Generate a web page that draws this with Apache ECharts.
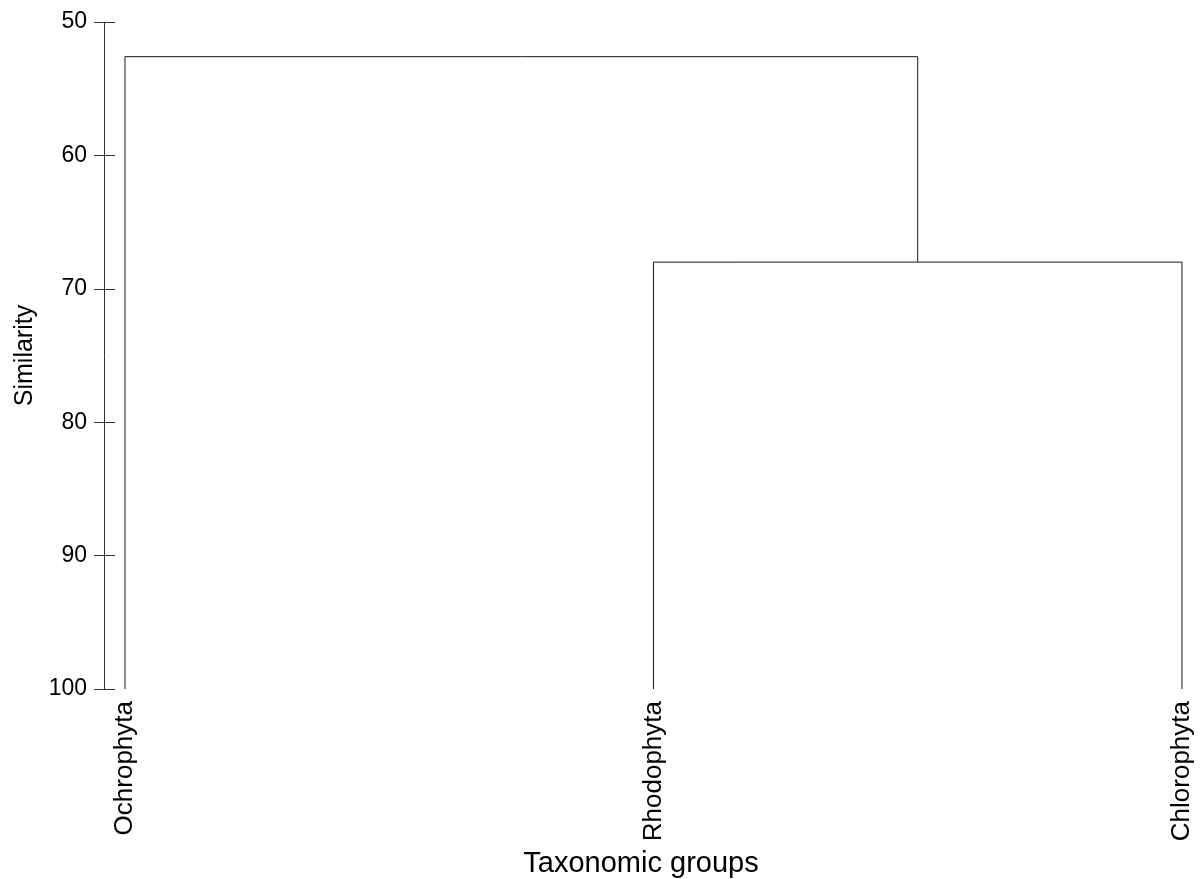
<!DOCTYPE html>
<html>
<head>
<meta charset="utf-8">
<style>
  html, body { margin: 0; padding: 0; background: #fff; }
  #chart { width: 1200px; height: 879px; }
</style>
<script src="https://cdn.jsdelivr.net/npm/echarts@6/dist/echarts.min.js"></script>
</head>
<body>
<div id="chart"></div>
<script>
// Leaves of the dendrogram, in drawing order
const taxa = ['Ochrophyta', 'Rhodophyta', 'Chlorophyta'];
// Linkage steps: [left node, right node, similarity]; nodes 0..2 are leaves, 3.. are clusters
const mergeLeft = [1, 0];
const mergeRight = [2, 3];
const mergeSimilarity = [68.0, 52.6];
// Similarity axis ticks
const simTicks = [50, 60, 70, 80, 90, 100];

// Node positions: leaves sit at their index at similarity 100,
// each cluster sits midway between its children at its merge similarity.
const nodeX = taxa.map((_, i) => i);
const nodeY = taxa.map(() => simTicks[simTicks.length - 1]);
const segments = [];
mergeSimilarity.forEach((s, k) => {
  const a = mergeLeft[k], b = mergeRight[k];
  segments.push([[nodeX[a], nodeY[a]], [nodeX[a], s], [nodeX[b], s], [nodeX[b], nodeY[b]]]);
  nodeX.push((nodeX[a] + nodeX[b]) / 2);
  nodeY.push(s);
});

const font = '"Liberation Sans", Arial, sans-serif';
const axisColor = '#333';
// small padding on both sides of the leaf range
const padLeft = 0.0397, padRight = 0.019;

const yBase = {
  type: 'value',
  position: 'left',
  inverse: true,
  min: simTicks[0],
  max: simTicks[simTicks.length - 1],
  interval: 10,
  splitLine: { show: false }
};

const chart = echarts.init(document.getElementById('chart'), null, { renderer: 'canvas' });
chart.setOption({
  animation: false,
  grid: { left: 104, right: 8, top: 22, bottom: 190, containLabel: false, outerBoundsMode: 'none' },
  xAxis: {
    type: 'value',
    min: -padLeft,
    max: taxa.length - 1 + padRight,
    splitLine: { show: false },
    axisLine: { show: false },
    axisTick: { show: false },
    axisLabel: {
      customValues: taxa.map((_, i) => i),
      formatter: v => taxa[Math.round(v)],
      rotate: 90,
      margin: 12,
      color: '#000',
      fontFamily: font,
      fontSize: 26
    },
    name: 'Taxonomic groups',
    nameLocation: 'middle',
    nameGap: 155,
    nameTextStyle: { color: '#000', fontFamily: font, fontSize: 29, padding: [0, 14, 0, 0] }
  },
  yAxis: [
    Object.assign({}, yBase, {
      axisLine: { show: true, onZero: false, lineStyle: { color: axisColor, width: 1 } },
      axisTick: { show: true, inside: false, length: 10, lineStyle: { color: axisColor } },
      axisLabel: { color: '#000', fontFamily: font, fontSize: 23, margin: 17 },
      name: 'Similarity',
      nameLocation: 'middle',
      nameGap: 66,
      nameTextStyle: { color: '#000', fontFamily: font, fontSize: 25 }
    }),
    Object.assign({}, yBase, {
      axisLine: { show: false, onZero: false },
      axisTick: { show: true, inside: true, length: 11, lineStyle: { color: axisColor } },
      axisLabel: { show: false }
    })
  ],
  series: segments.map(seg => ({
    type: 'line',
    data: seg,
    symbol: 'none',
    silent: true,
    lineStyle: { color: '#1a1a1a', width: 1 }
  }))
});
</script>
</body>
</html>
